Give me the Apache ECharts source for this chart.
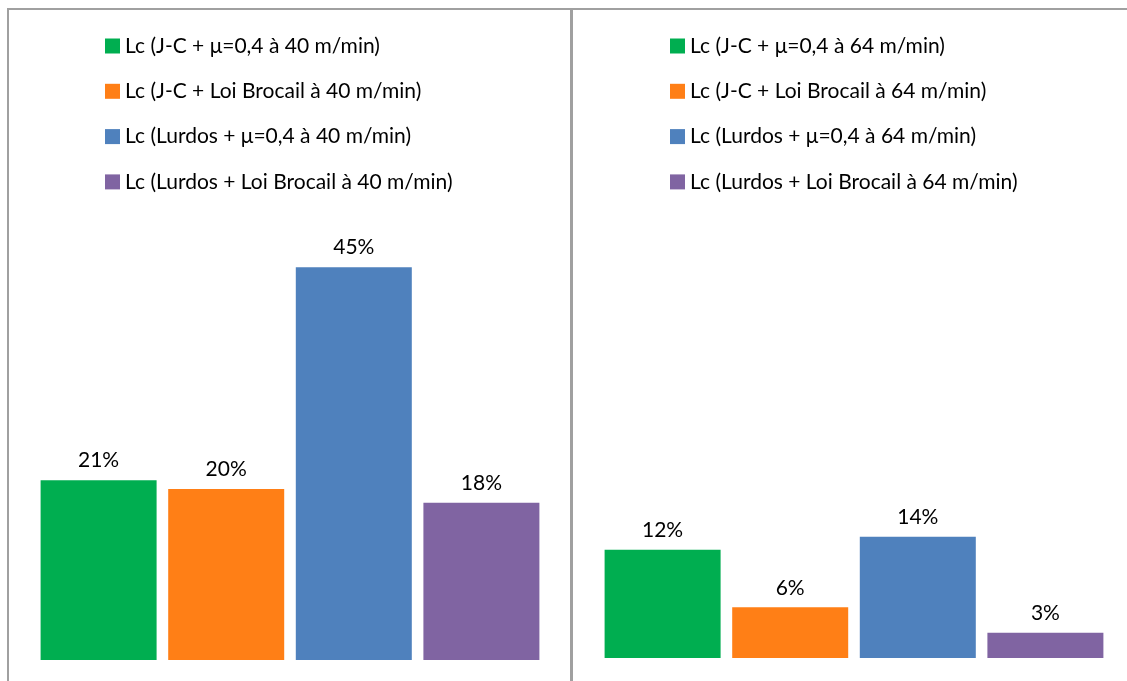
<!DOCTYPE html>
<html><head><meta charset="utf-8">
<script src="https://cdn.jsdelivr.net/npm/echarts@6/dist/echarts.min.js"></script>
<style>html,body{margin:0;padding:0;background:#fff}#c{width:1127px;height:681px}</style>
</head><body><div id="c"></div>
<script>
const leftNames = ['Lc (J-C + μ=0,4 à 40 m/min)','Lc (J-C + Loi Brocail à 40 m/min)','Lc (Lurdos + μ=0,4 à 40 m/min)','Lc (Lurdos + Loi Brocail à 40 m/min)'];
const rightNames = ['Lc (J-C + μ=0,4 à 64 m/min)','Lc (J-C + Loi Brocail à 64 m/min)','Lc (Lurdos + μ=0,4 à 64 m/min)','Lc (Lurdos + Loi Brocail à 64 m/min)'];
const leftValues = [0.206, 0.196, 0.45, 0.18];
const rightValues = [0.124, 0.058, 0.139, 0.029];
const colors = ['#00AE50','#FF7F16','#4F81BD','#8064A2'];

const FONT = 'Lato';
const chart = echarts.init(document.getElementById('c'), null, {renderer:'canvas'});
const series = [];
function addSeries(names, values, idx){
  names.forEach((n,i)=>{
    series.push({
      name:n, type:'bar', xAxisIndex:idx, yAxisIndex:idx,
      data:[values[i]], barWidth:116, barGap:'10%', barCategoryGap:'0%',
      itemStyle:{color:colors[i]},
      label:{show:true, position:'top', distance:9, color:'#000', fontFamily:FONT, fontSize:21,
        formatter:p=>Math.round(p.value*100)+'%'},
      silent:true, animation:false
    });
  });
}
addSeries(leftNames, leftValues, 0);
addSeries(rightNames, rightValues, 1);

const legendText = {fontFamily:FONT, fontSize:21, lineHeight:21, color:'#000'};
chart.setOption({
  animation:false,
  graphic:[
    {type:'rect', shape:{x:8, y:9, width:563, height:700}, style:{fill:'none', stroke:'#a0a0a0', lineWidth:2}},
    {type:'rect', shape:{x:572, y:9, width:600, height:700}, style:{fill:'none', stroke:'#a0a0a0', lineWidth:2}}
  ],
  legend:[
    {data:leftNames, orient:'vertical', left:100, top:30.5, itemWidth:15, itemHeight:15, itemGap:24.3, icon:'rect',
      textStyle:legendText, selectedMode:false},
    {data:rightNames, orient:'vertical', left:665, top:30.5, itemWidth:15, itemHeight:15, itemGap:24.3, icon:'rect',
      textStyle:legendText, selectedMode:false}
  ],
  grid:[
    {left:40, width:500, bottom:21, height:436.5},
    {left:604, width:500, bottom:23, height:436.5}
  ],
  xAxis:[
    {type:'category', gridIndex:0, data:[''], show:false},
    {type:'category', gridIndex:1, data:[''], show:false}
  ],
  yAxis:[
    {type:'value', gridIndex:0, min:0, max:0.5, show:false},
    {type:'value', gridIndex:1, min:0, max:0.5, show:false}
  ],
  series
});
</script></body></html>
